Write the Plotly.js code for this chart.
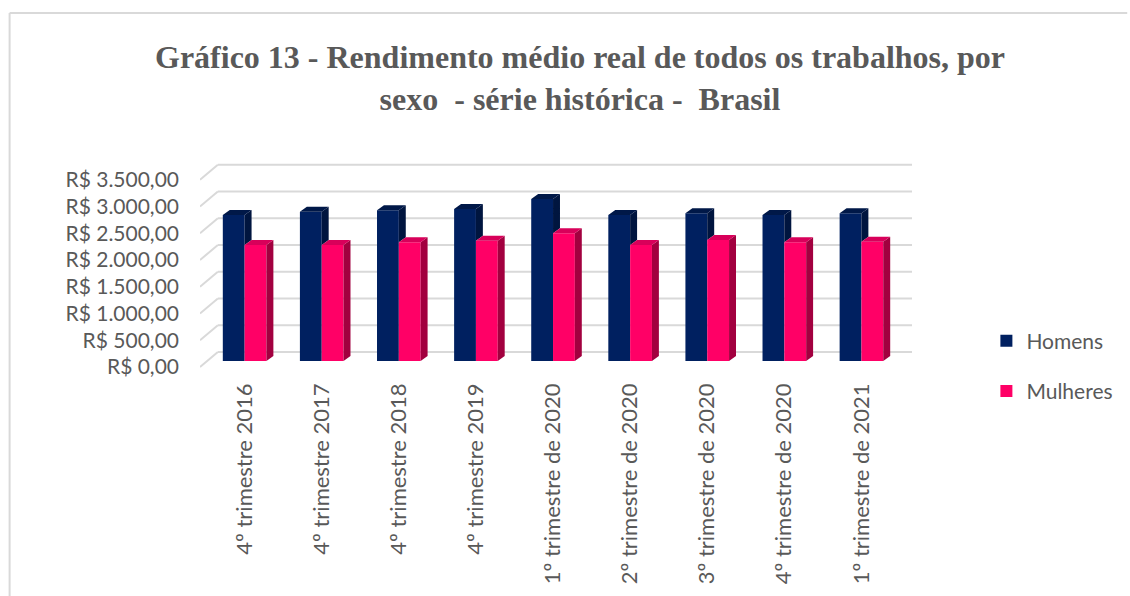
<!DOCTYPE html>
<html>
<head>
<meta charset="utf-8">
<script src="https://cdn.plot.ly/plotly-3.0.1.min.js"></script>
<style>html,body{margin:0;padding:0;background:#fff;}#chart{width:1130px;height:596px;}</style>
</head>
<body>
<div id="chart"></div>
<script>
// ---- data ----
const categories = [
  "4º trimestre 2016",
  "4º trimestre 2017",
  "4º trimestre 2018",
  "4º trimestre 2019",
  "1º trimestre de 2020",
  "2º trimestre de 2020",
  "3º trimestre de 2020",
  "4º trimestre de 2020",
  "1º trimestre de 2021"
];
const homens   = [2730, 2790, 2820, 2840, 3030, 2730, 2760, 2730, 2760];
const mulheres = [2170, 2170, 2220, 2250, 2390, 2170, 2260, 2220, 2230];
const seriesNames = ["Homens", "Mulheres"];
const tickValues = [0, 500, 1000, 1500, 2000, 2500, 3000, 3500];
const tickLabels = ["R$ 0,00", "R$ 500,00", "R$ 1.000,00", "R$ 1.500,00",
                    "R$ 2.000,00", "R$ 2.500,00", "R$ 3.000,00", "R$ 3.500,00"];

// ---- geometry (pixels -> axis units) ----
const W = 1130, H = 596;
const plotL = 200, plotR = 920, plotT = 150, plotB = 372;
const catPx = 77.75;            // px per category
const yPx = 0.0535;             // px per value unit
const firstCenterPx = 245;
const xMin = -(firstCenterPx - plotL) / catPx;
const xMax = xMin + (plotR - plotL) / catPx;
const yMin = -(plotB - 367) / yPx;
const yMax = yMin + (plotB - plotT) / yPx;
const barW = 22 / catPx;
const base = 6 / yPx;           // floor depth offset of the bars
const dx = 7 / catPx, dy = 5 / yPx;   // 3D depth of bars
const wallDy = 15 / yPx;        // back wall offset
const wallL = -(firstCenterPx - 218) / catPx;
const wallR = wallL + 700 / catPx;
const idx = categories.map((_, i) => i);

const cH = {front: "#002060", side: "#00153f", top: "#001848"};
const cM = {front: "#FF0066", side: "#A2003F", top: "#D8005A"};

function poly(pointsFn) {
  const xs = [], ys = [];
  idx.forEach(i => {
    pointsFn(i).forEach(p => { xs.push(p[0]); ys.push(p[1]); });
    xs.push(null); ys.push(null);
  });
  return {xs, ys};
}
function polyTrace(p, color) {
  return {type: "scatter", mode: "lines", x: p.xs, y: p.ys, fill: "toself",
          fillcolor: color, line: {width: 0, color: color}, showlegend: false,
          hoverinfo: "skip", connectgaps: false};
}
const offH = -barW, offM = 0;

const hSide = poly(i => {
  const xr = i + offH + barW;
  return [[xr, base + mulheres[i]], [xr, base + homens[i]],
          [xr + dx, base + homens[i] + dy], [xr + dx, base + mulheres[i] + dy]];
});
const hTop = poly(i => {
  const xl = i + offH, xr = xl + barW, t = base + homens[i];
  return [[xl, t], [xr, t], [xr + dx, t + dy], [xl + dx, t + dy]];
});
const mSide = poly(i => {
  const xr = i + offM + barW;
  return [[xr, base], [xr, base + mulheres[i]],
          [xr + dx, base + mulheres[i] + dy], [xr + dx, base + dy]];
});
const mTop = poly(i => {
  const xl = i + offM, xr = xl + barW, t = base + mulheres[i];
  return [[xl, t], [xr, t], [xr + dx, t + dy], [xl + dx, t + dy]];
});

const traces = [
  {type: "bar", name: seriesNames[0], x: idx, y: homens, base: base,
   width: barW, offset: offH, marker: {color: cH.front, line: {width: 0}},
   legendgroup: "h", hoverinfo: "skip"},
  polyTrace(hSide, cH.side),
  polyTrace(hTop, cH.top),
  {type: "bar", name: seriesNames[1], x: idx, y: mulheres, base: base,
   width: barW, offset: offM, marker: {color: cM.front, line: {width: 0}},
   legendgroup: "m", hoverinfo: "skip"},
  polyTrace(mSide, cM.side),
  polyTrace(mTop, cM.top)
];

// gridlines on the back wall + side-wall diagonals
const grid = "#d9d9d9";
const shapes = [];
tickValues.forEach(v => {
  shapes.push({type: "line", xref: "x", yref: "y", x0: wallL, x1: wallR,
               y0: v + wallDy, y1: v + wallDy, line: {color: grid, width: 2}, layer: "below"});
  shapes.push({type: "line", xref: "x", yref: "y", x0: xMin, x1: wallL,
               y0: v, y1: v + wallDy, line: {color: grid, width: 2}, layer: "below"});
});
// chart border (top and left edges)
const px2x = p => (p - plotL) / (plotR - plotL);
const px2y = p => (plotB - p) / (plotB - plotT);
shapes.push({type: "line", xref: "paper", yref: "paper", x0: px2x(8), x1: px2x(1135),
             y0: px2y(13), y1: px2y(13), line: {color: grid, width: 2}});
shapes.push({type: "line", xref: "paper", yref: "paper", x0: px2x(8), x1: px2x(8),
             y0: px2y(13), y1: px2y(600), line: {color: grid, width: 2}});

const txt = "#595959";
const font = "Lato, 'Open Sans', sans-serif";
const layout = {
  width: W, height: H,
  margin: {l: plotL, r: W - plotR, t: plotT, b: H - plotB, pad: 0},
  paper_bgcolor: "#ffffff", plot_bgcolor: "rgba(0,0,0,0)",
  title: {
    text: "Gráfico 13 - Rendimento médio real de todos os trabalhos, por<br>sexo\u00a0\u00a0- série histórica -\u00a0\u00a0Brasil",
    font: {family: "'Liberation Serif', 'Times New Roman', serif", size: 32, color: txt, weight: "bold"},
    x: 580 / W, xanchor: "center", xref: "container",
    y: 1 - 68 / H, yanchor: "top", yref: "container"
  },
  barmode: "overlay",
  hovermode: false,
  showlegend: true,
  legend: {
    x: px2x(993), xanchor: "left", y: px2y(366), yanchor: "middle",
    font: {family: font, size: 21, color: txt}, itemwidth: 30,
    traceorder: "grouped", tracegroupgap: 20, bgcolor: "rgba(0,0,0,0)"
  },
  xaxis: {
    type: "linear", range: [xMin, xMax], tickvals: idx, ticktext: categories,
    tickangle: -90, showgrid: false, zeroline: false, showline: false, ticks: "",
    tickfont: {family: font, size: 22, color: txt}, ticklabelstandoff: 6, fixedrange: true
  },
  yaxis: {
    type: "linear", range: [yMin, yMax], tickvals: tickValues, ticktext: tickLabels,
    showgrid: false, zeroline: false, showline: false, ticks: "",
    tickfont: {family: font, size: 21, color: txt}, ticklabelstandoff: 20, fixedrange: true
  },
  shapes: shapes
};

Plotly.newPlot("chart", traces, layout, {displayModeBar: false, staticPlot: true});
</script>
</body>
</html>
